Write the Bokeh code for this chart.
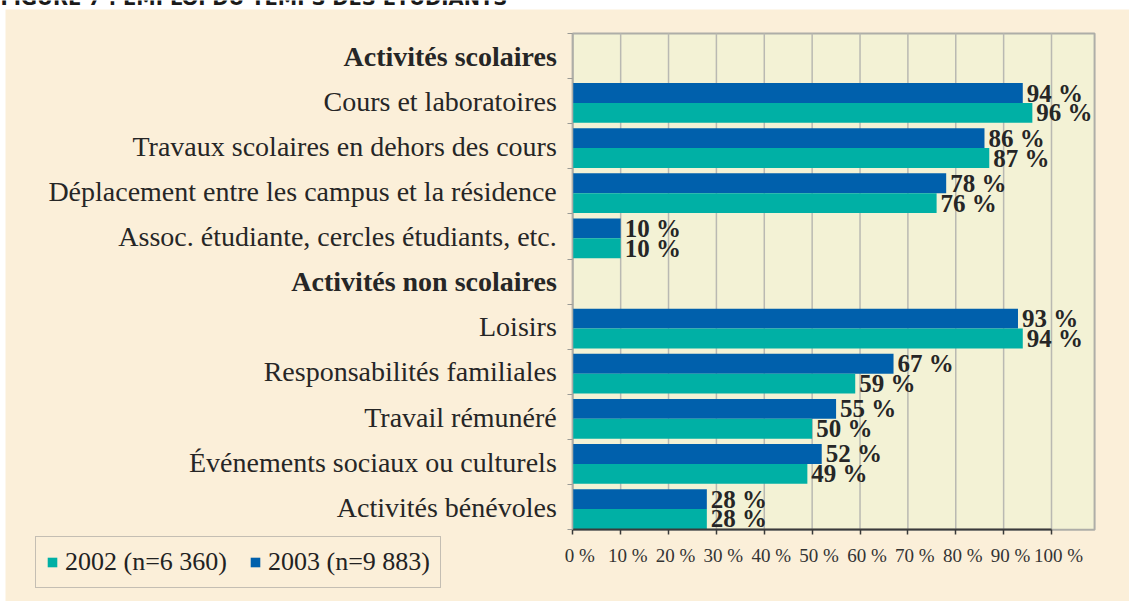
from bokeh.plotting import figure
from bokeh.models import (ColumnDataSource, Range1d, FixedTicker, Legend, LegendItem, LinearAxis)
from bokeh.core.properties import value
from bokeh.embed import file_html
from bokeh.resources import INLINE

# ---- data ----
title = "FIGURE 7 : EMPLOI DU TEMPS DES ÉTUDIANTS"
rows = ["Activités scolaires",
        "Cours et laboratoires",
        "Travaux scolaires en dehors des cours",
        "Déplacement entre les campus et la résidence",
        "Assoc. étudiante, cercles étudiants, etc.",
        "Activités non scolaires",
        "Loisirs",
        "Responsabilités familiales",
        "Travail rémunéré",
        "Événements sociaux ou culturels",
        "Activités bénévoles"]
headers = ["Activités scolaires", "Activités non scolaires"]
items = ["Cours et laboratoires",
         "Travaux scolaires en dehors des cours",
         "Déplacement entre les campus et la résidence",
         "Assoc. étudiante, cercles étudiants, etc.",
         "Loisirs",
         "Responsabilités familiales",
         "Travail rémunéré",
         "Événements sociaux ou culturels",
         "Activités bénévoles"]
v2002 = [96, 87, 76, 10, 94, 59, 50, 49, 28]
v2003 = [94, 86, 78, 10, 93, 67, 55, 52, 28]
x_ticks = [0, 10, 20, 30, 40, 50, 60, 70, 80, 90, 100]
legend_2002 = "2002 (n=6 360)"
legend_2003 = "2003 (n=9 883)"

# ---- style ----
BLUE = "#0060AC"
TEAL = "#00B0A5"
BG = "#FBEFD9"
PLOT_BG = "#F3F2D5"
GRID = "#B9B9B2"
TXT = "#262626"
FONT = "Liberation Serif"
W, H = 1129, 601

# layout (pixels): plot area placement
LEFT_PX, ZERO_PX_Y = 572.3, 529.3
K = 4.787           # px per percent
ROW = 45.12         # px per row
XMAX = 109          # plot area right edge (data)
n = len(rows)

x_start = -LEFT_PX / K
x_end = (W - LEFT_PX) / K
y_start = -(H - ZERO_PX_Y) / ROW
y_end = ZERO_PX_Y / ROW

def px2x(px):
    return x_start + px / K

def px2y(py):
    return y_end - py / ROW

def ypos(name):
    return n - rows.index(name) - 0.5

bh = 0.44
yc = [ypos(c) for c in items]
src = ColumnDataSource(dict(
    cat=items, y=yc,
    y03=[y + 0.18 for y in yc], y02=[y - 0.26 for y in yc],
    v02=v2002, v03=v2003,
    t02=[f"{v} %" for v in v2002], t03=[f"{v} %" for v in v2003],
))
hsrc = ColumnDataSource(dict(name=headers, y=[ypos(h) for h in headers], x=[0] * len(headers)))

p = figure(width=W, height=H, output_backend="svg", toolbar_location=None,
           x_range=Range1d(x_start, x_end), y_range=Range1d(y_start, y_end),
           x_axis_type=None, y_axis_type=None,
           min_border_left=0, min_border_right=0, min_border_top=0, min_border_bottom=0)
p.background_fill_color = "white"
p.border_fill_color = "white"
p.outline_line_color = None
p.xgrid.visible = False
p.ygrid.visible = False

# page background (beige panel) and title cut off at the top
p.quad(left=px2x(5), right=x_end, bottom=y_start, top=px2y(9), fill_color=BG, line_color=None)
p.text(x=[x_start], y=[px2y(-2.5)], text=[title], text_font=value("DejaVu Sans"),
       text_font_style="bold", text_font_size="19.5px", text_color="#1A1A1A",
       text_baseline="alphabetic", text_align="left")

# plot area
p.quad(left=0, right=XMAX, bottom=0, top=n, fill_color=PLOT_BG, line_color="#AEAEA8", line_width=2)
p.segment(x0=x_ticks[1:], x1=x_ticks[1:], y0=0, y1=n, line_color=GRID, line_width=1.5)

r03 = p.hbar(y="y03", right="v03", left=0, height=bh, source=src, color=BLUE, line_color=None)
r02 = p.hbar(y="y02", right="v02", left=0, height=bh, source=src, color=TEAL, line_color=None)

# value labels
for yk, vk, tk in (("y03", "v03", "t03"), ("y02", "v02", "t02")):
    p.text(x=vk, y=yk, text=tk, source=src, x_offset=4, text_align="left",
           text_baseline="middle", text_font=value(FONT), text_font_size="25px",
           text_font_style="bold", text_color=TXT)

# header labels (bold)
p.text(x="x", y="y", text="name", source=hsrc, x_offset=-16, text_align="right",
       text_baseline="middle", text_font=value(FONT), text_font_size="28px",
       text_font_style="bold", text_color=TXT)

# x axis: labels sit slightly right of the ticks in the original
sh = 7 / K
p.extra_x_ranges = {"lab": Range1d(x_start - sh, x_end - sh)}
xa = LinearAxis(x_range_name="lab", fixed_location=0)
xa.ticker = FixedTicker(ticks=x_ticks, minor_ticks=[t - sh for t in x_ticks])
xa.bounds = (-sh, 100 - sh)
xa.major_label_overrides = {t: f"{t} %" for t in x_ticks}
xa.axis_line_color = "#3A3A3A"
xa.axis_line_width = 2
xa.major_tick_line_color = None
xa.major_tick_out = 5
xa.major_tick_in = 0
xa.minor_tick_out = 5
xa.minor_tick_in = 0
xa.minor_tick_line_color = "#3A3A3A"
xa.minor_tick_line_width = 1.5
xa.major_label_text_font = FONT
xa.major_label_text_font_size = "19px"
xa.major_label_text_color = "#333333"
xa.major_label_standoff = 10
p.add_layout(xa, "below")

# y axis: item labels, boundary ticks
ya = LinearAxis(fixed_location=0)
ya.ticker = FixedTicker(ticks=yc, minor_ticks=list(range(n + 1)))
ya.bounds = (0, n)
ya.major_label_overrides = {y: c for y, c in zip(yc, items)}
ya.axis_line_color = "#AEAEA8"
ya.axis_line_width = 1.5
ya.major_tick_line_color = None
ya.major_tick_out = 0
ya.major_tick_in = 0
ya.minor_tick_out = 5
ya.minor_tick_in = 0
ya.minor_tick_line_color = "#9A9A95"
ya.major_label_text_font = FONT
ya.major_label_text_font_size = "28px"
ya.major_label_text_color = TXT
ya.major_label_standoff = 11
p.add_layout(ya, "left")

# legend
leg = Legend(items=[LegendItem(label=legend_2002, renderers=[r02]),
                    LegendItem(label=legend_2003, renderers=[r03])],
             orientation="horizontal", location=(35, 13))
leg.background_fill_alpha = 0
leg.border_line_color = "#8E8E8E"
leg.border_line_width = 1.5
leg.label_text_font = FONT
leg.label_text_font_size = "26px"
leg.label_text_color = "#222222"
leg.glyph_width = 12
leg.glyph_height = 12
leg.label_standoff = 7
leg.spacing = 22
leg.padding = 10
leg.margin = 0
p.add_layout(leg, "center")

open("out.html", "w").write(file_html(p, INLINE))
